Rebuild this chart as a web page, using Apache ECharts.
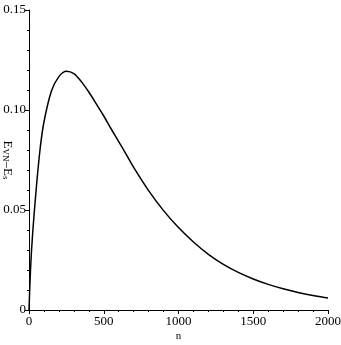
<!DOCTYPE html>
<html>
<head>
<meta charset="utf-8">
<script src="https://cdn.jsdelivr.net/npm/echarts@6/dist/echarts.min.js"></script>
<style>
  html, body { margin: 0; padding: 0; background: #fff; }
  #chart { width: 341px; height: 345px; }
</style>
</head>
<body>
<div id="chart"></div>
<script>
// values
const nValues = [0, 10, 25, 50, 75, 100, 150, 200, 250, 300, 350, 400, 450, 500, 550, 600, 650, 700, 800, 900, 1000, 1100, 1200, 1300, 1400, 1500, 1600, 1700, 1800, 1900, 2000];
const diffValues = [0, 0.020, 0.039, 0.062, 0.081, 0.094, 0.1095, 0.1167, 0.1194, 0.1182, 0.1142, 0.1090, 0.1031, 0.0970, 0.0905, 0.0842, 0.0778, 0.0713, 0.0597, 0.0497, 0.0412, 0.0340, 0.0278, 0.0228, 0.0188, 0.0155, 0.0128, 0.0106, 0.0088, 0.0073, 0.0060];
const xTicks = [0, 500, 1000, 1500, 2000];
const yTicks = [0, 0.05, 0.10, 0.15];

const font = "Liberation Serif";
const chart = echarts.init(document.getElementById("chart"));

chart.setOption({
    animation: false,
    grid: { left: 29, right: 13, top: 10, bottom: 35, containLabel: false, outerBoundsMode: "none" },
    xAxis: {
        type: "value",
        min: xTicks[0],
        max: xTicks[xTicks.length - 1],
        interval: 500,
        name: "n",
        nameLocation: "middle",
        nameGap: 21,
        nameMoveOverlap: false,
        nameTextStyle: { fontFamily: font, fontSize: 11, color: "#000" },
        axisLine: { lineStyle: { color: "#000", width: 1 } },
        axisTick: { length: 4, lineStyle: { color: "#000" } },
        minorTick: { show: true, splitNumber: 5, length: 2, lineStyle: { color: "#000" } },
        splitLine: { show: false },
        axisLabel: { fontFamily: font, fontSize: 13, color: "#000", margin: 5, formatter: (v) => String(v) },
    },
    yAxis: {
        type: "value",
        min: yTicks[0],
        max: yTicks[yTicks.length - 1],
        interval: 0.05,
        name: "{e|E}{s|VN}{e|–E}{s|s}",
        nameLocation: "middle",
        nameRotate: -90,
        nameGap: 15,
        nameMoveOverlap: false,
        nameTextStyle: {
            color: "#000",
            rich: {
                e: { fontFamily: font, fontSize: 13, color: "#000" },
                s: { fontFamily: font, fontSize: 9, color: "#000", verticalAlign: "bottom", padding: [4, 0, 0, 0] },
            },
        },
        axisLine: { show: true, lineStyle: { color: "#000", width: 1 } },
        axisTick: { length: 4, lineStyle: { color: "#000" } },
        minorTick: { show: true, splitNumber: 5, length: 2, lineStyle: { color: "#000" } },
        splitLine: { show: false },
        axisLabel: {
            fontFamily: font,
            fontSize: 13,
            color: "#000",
            margin: 3,
            formatter: (v) => (v === 0 ? "0" : v.toFixed(2)),
        },
    },
    series: [
        {
            type: "line",
            data: nValues.map((n, i) => [n, diffValues[i]]),
            smooth: 0.3,
            showSymbol: false,
            lineStyle: { color: "#000", width: 1.5 },
        },
    ],
});
</script>
</body>
</html>
